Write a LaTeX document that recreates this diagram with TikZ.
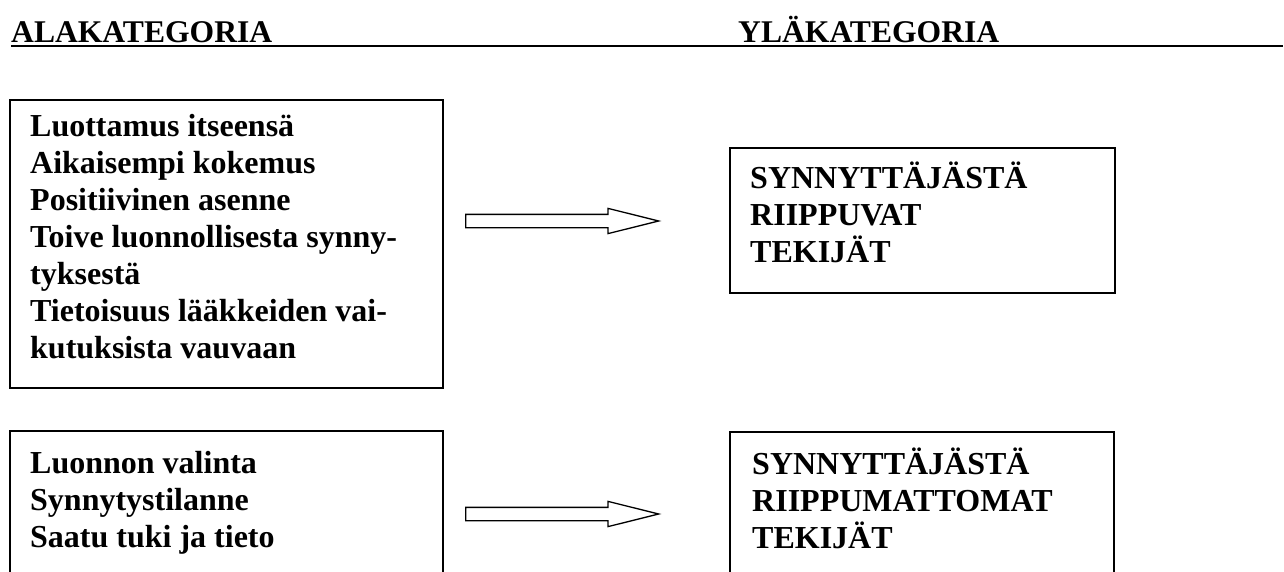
\documentclass[tikz,border=0pt]{standalone}
\usepackage{fontspec}
\setmainfont{Liberation Serif}
\usetikzlibrary{shapes.arrows, positioning}
\tikzset{
    box/.style={rectangle, draw, line width=1.6pt, anchor=north west, inner sep=0pt},
    boxtext/.style={anchor=base west, align=left, inner sep=0pt, font=\bfseries\fontsize{32}{37}\selectfont},
    heading/.style={anchor=base west, inner sep=0pt, font=\bfseries\fontsize{31.6}{36}\selectfont},
    bigarrow/.style={single arrow, draw, line width=1.3pt, inner sep=6pt, minimum height=193pt, single arrow head extend=6pt, single arrow tip angle=28, anchor=tail},
    rule/.style={line width=2.8pt}
}

\begin{document}
\begin{tikzpicture}[x=1pt, y=-1pt]
            \clip (0,0) rectangle (1284,572);
            \node[heading] (ala) at (11,43) {ALAKATEGORIA};
            \node[heading] (yla) at (738,43) {YLÄKATEGORIA};
            \coordinate (ruleend) at (1283,47);

            \node[box, minimum width=433pt, minimum height=288pt] (box1) at (9,99) {};
            \node[box, minimum width=433pt, minimum height=200pt] (box2) at (9,430) {};
            \node[box, minimum width=385pt, minimum height=145pt] (box3) at (729,147) {};
            \node[box, minimum width=384pt, minimum height=200pt] (box4) at (729,431) {};

            % base anchor = baseline of the last line
            \node[boxtext] (txt1) at (30,358) {Luottamus itseensä\\Aikaisempi kokemus\\Positiivinen asenne\\Toive luonnollisesta synny-\\tyksestä\\Tietoisuus lääkkeiden vai-\\kutuksista vauvaan};
            \node[boxtext] (txt2) at (30,547) {Luonnon valinta\\Synnytystilanne\\Saatu tuki ja tieto};
            \node[boxtext] (txt3) at (750,262) {SYNNYTTÄJÄSTÄ\\RIIPPUVAT\\TEKIJÄT};
            \node[boxtext] (txt4) at (752,548) {SYNNYTTÄJÄSTÄ\\RIIPPUMATTOMAT\\TEKIJÄT};

            \node[bigarrow] (arr1) at (465,221) {};
            \node[bigarrow] (arr2) at (465,514) {};

            \draw[rule] ([yshift=-3pt]ala.base west) -- ([yshift=-3pt]ala.base west -| ruleend);
        \end{tikzpicture}
\end{document}
